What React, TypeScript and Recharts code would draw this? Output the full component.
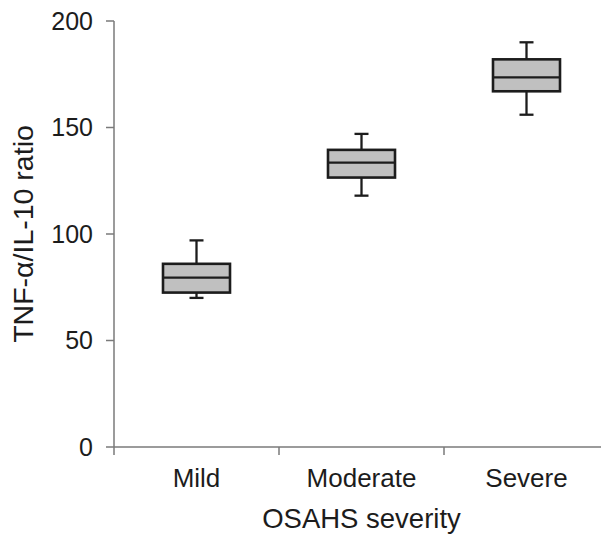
import { ComposedChart, Bar, XAxis, YAxis, Label } from 'recharts';

// box plot stats
const categories = ['Mild', 'Moderate', 'Severe'];
const mins = [70, 118, 156];
const q1s = [72.5, 126.5, 167];
const medians = [79.5, 133.5, 173.5];
const q3s = [86, 139.5, 182];
const maxs = [97, 147, 190];
const yTicks = [0, 50, 100, 150, 200];

const data = categories.map((name, i) => ({
    name,
    min: mins[i],
    q1: q1s[i],
    median: medians[i],
    q3: q3s[i],
    max: maxs[i],
}));

const FONT = '"Liberation Sans", Arial, Helvetica, sans-serif';
const AXIS = '#7a7a7a';
const INK = '#1c1c1c';

const BoxShape = (props: any) => {
    const { x, y, width, height, payload } = props;
    const { min, q1, median, q3, max } = payload;
    const top = height < 0 ? y + height : y;
    const h = Math.abs(height);
    const k = h / (max - min);
    const py = (v: number) => top + (max - v) * k;
    const cx = x + width / 2;
    const cap = 7;
    return (
        <g>
            <line x1={cx} x2={cx} y1={py(max)} y2={py(q3)} stroke={INK} strokeWidth={2.3} />
            <line x1={cx} x2={cx} y1={py(q1)} y2={py(min)} stroke={INK} strokeWidth={2.3} />
            <line x1={cx - cap} x2={cx + cap} y1={py(max)} y2={py(max)} stroke={INK} strokeWidth={2.3} />
            <line x1={cx - cap} x2={cx + cap} y1={py(min)} y2={py(min)} stroke={INK} strokeWidth={2.3} />
            <rect x={x} y={py(q3)} width={width} height={py(q1) - py(q3)} fill="#c0c0c0" stroke={INK} strokeWidth={2.6} />
            <line x1={x} x2={x + width} y1={py(median)} y2={py(median)} stroke={INK} strokeWidth={2.3} />
        </g>
    );
};

const CatTick = (props: any) => {
    const { x, y, payload } = props;
    const off = payload.offset ?? 0;
    return (
        <g>
            <line x1={x - off} x2={x - off} y1={y - 8} y2={y} stroke={AXIS} strokeWidth={1.5} />
            <text x={x} y={y + 32} textAnchor="middle" fill={INK} fontSize={26} fontFamily={FONT}>
                {payload.value}
            </text>
        </g>
    );
};

export default function App() {
    return (
        <ComposedChart
            width={601}
            height={532}
            data={data}
            margin={{ top: 13, right: 0, bottom: 0, left: 0 }}
            style={{ fontFamily: FONT }}
        >
            <XAxis
                dataKey="name"
                height={93}
                tickSize={8}
                tickMargin={0}
                tickLine={false}
                axisLine={{ stroke: AXIS, strokeWidth: 1.5 }}
                tick={<CatTick />}
                interval={0}
            >
                <Label
                    content={({ viewBox }: any) => (
                        <text
                            x={viewBox.x + viewBox.width / 2}
                            y={viewBox.y + 81}
                            textAnchor="middle"
                            fill={INK}
                            fontSize={27.5}
                            fontFamily={FONT}
                        >
                            OSAHS severity
                        </text>
                    )}
                />
            </XAxis>
            <YAxis
                width={106}
                domain={[0, 200]}
                ticks={yTicks}
                interval={0}
                tickSize={8}
                tickMargin={13}
                axisLine={{ stroke: AXIS, strokeWidth: 1.5 }}
                tickLine={{ stroke: AXIS, strokeWidth: 1.5 }}
                tick={{ fill: INK, fontSize: 25, fontFamily: FONT }}
            >
                <Label
                    content={({ viewBox }: any) => {
                        const cx = 15;
                        const cy = viewBox.y + viewBox.height / 2;
                        return (
                            <text
                                x={cx}
                                y={cy}
                                transform={`rotate(-90 ${cx} ${cy})`}
                                textAnchor="middle"
                                dominantBaseline="central"
                                fill={INK}
                                fontSize={28.5}
                                fontFamily={FONT}
                            >
                                TNF-α/IL-10 ratio
                            </text>
                        );
                    }}
                />
            </YAxis>
            <Bar
                dataKey={(d: any) => [d.min, d.max]}
                barSize={67}
                shape={<BoxShape />}
                isAnimationActive={false}
            />
        </ComposedChart>
    );
}
